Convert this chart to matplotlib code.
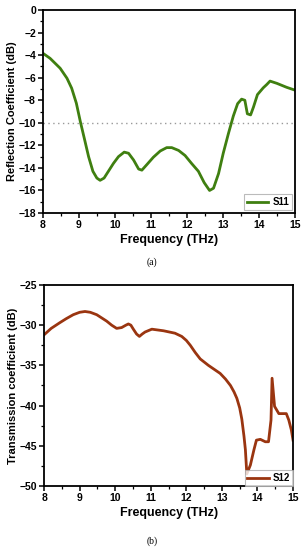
import matplotlib.pyplot as plt
from matplotlib.ticker import MultipleLocator

# S11 reflection coefficient
freq_s11 = [8.0, 8.2, 8.48, 8.67, 8.8, 8.93, 9.04, 9.16, 9.27, 9.39, 9.5, 9.59, 9.7,
            9.82, 9.96, 10.1, 10.26, 10.38, 10.52, 10.66, 10.75, 10.89, 11.07, 11.26,
            11.44, 11.58, 11.77, 11.95, 12.13, 12.32, 12.48, 12.63, 12.74, 12.88,
            13.01, 13.15, 13.29, 13.41, 13.52, 13.61, 13.68, 13.77, 13.85, 13.96,
            14.12, 14.22, 14.31, 14.5, 14.77, 15.0]
s11 = [-3.83, -4.28, -5.16, -6.05, -6.93, -8.26, -9.88, -11.5, -13.0, -14.3, -14.9,
       -15.1, -14.9, -14.3, -13.6, -13.0, -12.6, -12.7, -13.3, -14.1, -14.2, -13.7,
       -13.05, -12.5, -12.2, -12.2, -12.45, -12.9, -13.6, -14.3, -15.3, -16.0,
       -15.8, -14.5, -12.7, -11.0, -9.4, -8.3, -7.9, -8.0, -9.2, -9.3, -8.6, -7.5,
       -6.9, -6.6, -6.3, -6.5, -6.85, -7.1]

# S12 transmission coefficient
freq_s12 = [8.0, 8.2, 8.44, 8.62, 8.82, 9.0, 9.15, 9.3, 9.48, 9.62, 9.76, 9.9, 10.04,
            10.18, 10.3, 10.37, 10.44, 10.51, 10.6, 10.68, 10.76, 10.84, 11.03,
            11.36, 11.68, 11.87, 12.0, 12.11, 12.25, 12.39, 12.62, 12.95, 13.1,
            13.24, 13.34, 13.42, 13.5, 13.56, 13.62, 13.66, 13.70, 13.80, 13.9,
            13.97, 14.08, 14.22, 14.31, 14.38, 14.41, 14.48, 14.6, 14.81, 14.88,
            14.95, 15.0]
s12 = [-31.2, -30.4, -29.7, -29.2, -28.7, -28.4, -28.3, -28.4, -28.7, -29.1, -29.5,
       -30.0, -30.4, -30.3, -30.0, -29.85, -30.0, -30.5, -31.1, -31.4, -31.1,
       -30.85, -30.5, -30.7, -31.0, -31.4, -31.9, -32.5, -33.4, -34.2, -35.0,
       -36.0, -36.7, -37.5, -38.3, -39.1, -40.3, -41.7, -43.8, -45.5, -48.5,
       -47.4, -45.5, -44.3, -44.2, -44.5, -44.5, -41.8, -36.6, -40.1, -41.0,
       -41.0, -41.8, -43.0, -44.3]

plt.rcParams['font.family'] = ['Liberation Sans', 'DejaVu Sans']
plt.rcParams['font.weight'] = 'bold'

fig = plt.figure(figsize=(3.04, 5.5), dpi=100)
ax1 = fig.add_axes([0.141, 0.6127, 0.829, 0.369])
ax2 = fig.add_axes([0.145, 0.1164, 0.819, 0.3655])


def style_axes(ax):
    for sp in ax.spines.values():
        sp.set_linewidth(1.3)
    ax.tick_params(which='major', direction='out', length=3.5, width=1.1,
                   labelsize=7.5, top=False, right=False, pad=1.5)
    ax.tick_params(which='minor', direction='out', length=2, width=0.9,
                   top=False, right=False)
    for lab in ax.get_xticklabels() + ax.get_yticklabels():
        lab.set_fontweight('bold')


# (a)
ax1.plot(freq_s11, s11, color='#3f7f10', lw=2, label='S11')
ax1.axhline(-10, color='#999999', lw=1, ls=(0, (1, 2.5)))
ax1.set_xlim(8, 15)
ax1.set_ylim(-18, 0)
ax1.xaxis.set_major_locator(MultipleLocator(1))
ax1.xaxis.set_minor_locator(MultipleLocator(0.5))
ax1.yaxis.set_major_locator(MultipleLocator(2))
ax1.yaxis.set_minor_locator(MultipleLocator(1))
ax1.set_xlabel('Frequency (THz)', fontsize=9, fontweight='bold', labelpad=3)
ax1.set_ylabel('Reflection Coefficient (dB)', fontsize=8, fontweight='bold', labelpad=1)
style_axes(ax1)
leg1 = ax1.legend(loc='lower right', fontsize=7, handlelength=2.2, borderpad=0.3,
                  handletextpad=0.4, fancybox=False, borderaxespad=0.3)
leg1.get_frame().set_edgecolor('#aaaaaa')
leg1.get_frame().set_linewidth(0.8)
for t in leg1.get_texts():
    t.set_fontweight('bold')

# (b)
ax2.plot(freq_s12, s12, color='#9a3510', lw=2, label='S12')
ax2.set_xlim(8, 15)
ax2.set_ylim(-50, -25)
ax2.xaxis.set_major_locator(MultipleLocator(1))
ax2.xaxis.set_minor_locator(MultipleLocator(0.5))
ax2.yaxis.set_major_locator(MultipleLocator(5))
ax2.yaxis.set_minor_locator(MultipleLocator(2.5))
ax2.set_xlabel('Frequency (THz)', fontsize=9, fontweight='bold', labelpad=3)
ax2.set_ylabel('Transmission coefficient (dB)', fontsize=8, fontweight='bold', labelpad=1)
style_axes(ax2)
leg2 = ax2.legend(loc='lower right', fontsize=7, handlelength=2.2, borderpad=0.3,
                  handletextpad=0.4, fancybox=False, borderaxespad=0.0)
leg2.get_frame().set_edgecolor('#aaaaaa')
leg2.get_frame().set_linewidth(0.8)
for t in leg2.get_texts():
    t.set_fontweight('bold')

fig.text(0.5, 1 - 262 / 550, '(a)', ha='center', va='center', fontsize=7,
         family='Liberation Serif', fontweight='normal')
fig.text(0.5, 1 - 541 / 550, '(b)', ha='center', va='center', fontsize=7,
         family='Liberation Serif', fontweight='normal')

fig.savefig('out.png', dpi=100)
